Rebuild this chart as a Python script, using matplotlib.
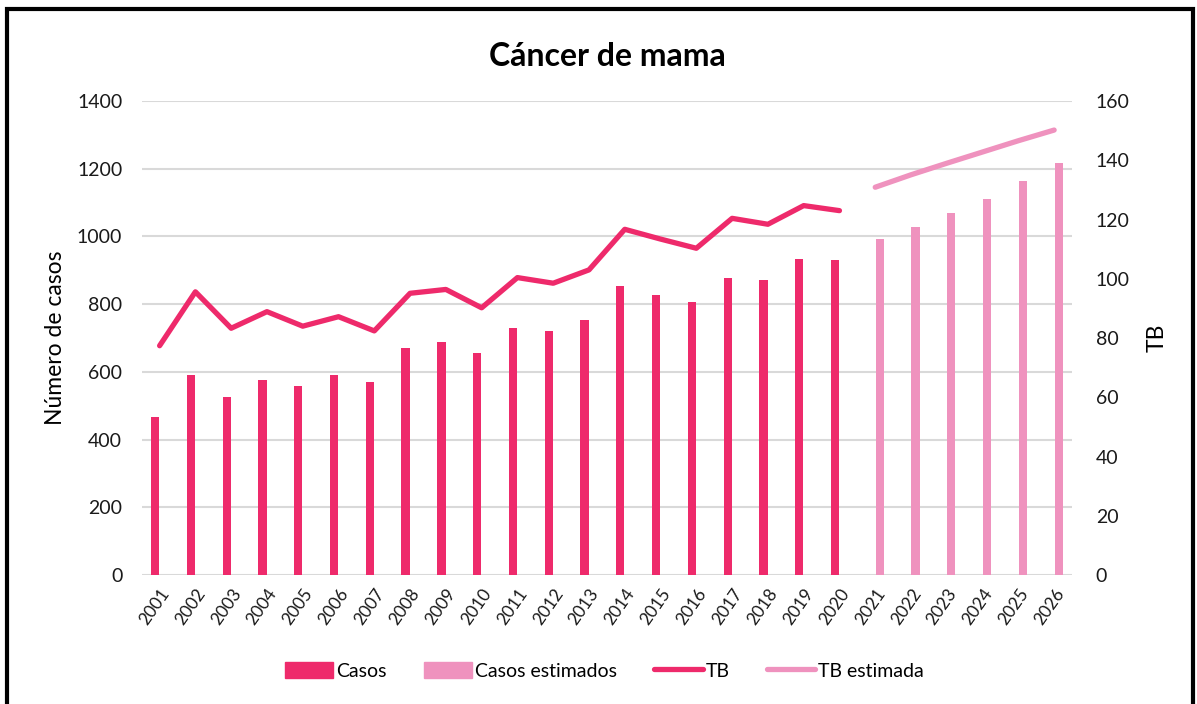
import matplotlib.pyplot as plt
from matplotlib.patches import Rectangle
from matplotlib.lines import Line2D

plt.rcParams['font.family'] = ['Lato', 'DejaVu Sans']

years = [str(y) for y in range(2001, 2027)]
casos_years = years[:20]
estim_years = years[20:]

casos = [466, 592, 526, 575, 557, 592, 571, 672, 689, 655,
         731, 721, 752, 853, 826, 805, 878, 871, 933, 930]
casos_estimados = [993, 1028, 1069, 1111, 1165, 1217]

tb = [77.4, 95.6, 83.3, 88.9, 84.0, 87.2, 82.4, 95.1, 96.4, 90.2,
      100.4, 98.5, 103.0, 116.7, 113.4, 110.3, 120.4, 118.4, 124.7, 123.0]
tb_estimada = [130.9, 135.1, 139.0, 142.8, 146.6, 150.2]

dark = '#EE2A6B'
light = '#EF92BE'

fig = plt.figure(figsize=(11.97, 7.04), dpi=100)
ax = fig.add_axes([0.1184, 0.1832, 0.7772, 0.6733])
ax2 = ax.twinx()

x_c = list(range(len(casos)))
x_e = list(range(len(casos), len(years)))

# bars (excel-style clustered offset)
ax.bar([i - 0.125 for i in x_c], casos, width=0.23, color=dark, zorder=3)
ax.bar([i + 0.125 for i in x_e], casos_estimados, width=0.23, color=light, zorder=3)

# lines on right axis
ax2.plot(x_c, tb, color=dark, lw=3.8, solid_capstyle='round', solid_joinstyle='round')
ax2.plot(x_e, tb_estimada, color=light, lw=3.8, solid_capstyle='round')

ax.set_xlim(-0.5, len(years) - 0.5)
ax.set_ylim(0, 1400)
ax2.set_ylim(0, 160)
ax.set_yticks(range(0, 1401, 200))
ax2.set_yticks(range(0, 161, 20))
ax.set_xticks(range(len(years)))
ax.set_xticklabels(years, rotation=55, ha='right', va='top', rotation_mode='anchor', fontsize=12.5)

ax.yaxis.grid(True, color='#d9d9d9', lw=1.5, zorder=0)
ax.set_axisbelow(True)
for a in (ax, ax2):
    for s in a.spines.values():
        s.set_visible(False)
    a.tick_params(length=0, colors='#1a1a1a')
ax.tick_params(axis='y', labelsize=14, pad=14)
ax2.tick_params(axis='y', labelsize=14, pad=17)
ax.tick_params(axis='x', pad=8)

ax.set_ylabel('Número de casos', fontsize=16.5, labelpad=8)
ax2.set_ylabel('TB', fontsize=16.5, labelpad=12)
ax.set_title('Cáncer de mama', fontsize=23, fontweight='bold', pad=25)

handles = [Rectangle((0, 0), 1, 1, color=dark),
           Rectangle((0, 0), 1, 1, color=light),
           Line2D([], [], color=dark, lw=3.8, solid_capstyle='round'),
           Line2D([], [], color=light, lw=3.8, solid_capstyle='round')]
fig.legend(handles, ['Casos', 'Casos estimados', 'TB', 'TB estimada'],
           loc='center', bbox_to_anchor=(0.505, 0.047), ncol=4, frameon=False,
           fontsize=14, handlelength=2.5, handleheight=0.9, handletextpad=0.15,
           columnspacing=1.9)

# outer frame (bottom edge cut off)
fig.add_artist(Rectangle((7 / 1197, -0.05), 1186 / 1197, 1 - 9 / 704 + 0.05,
                         transform=fig.transFigure, fill=False, ec='black', lw=3))

fig.savefig('out.png', dpi=100)
